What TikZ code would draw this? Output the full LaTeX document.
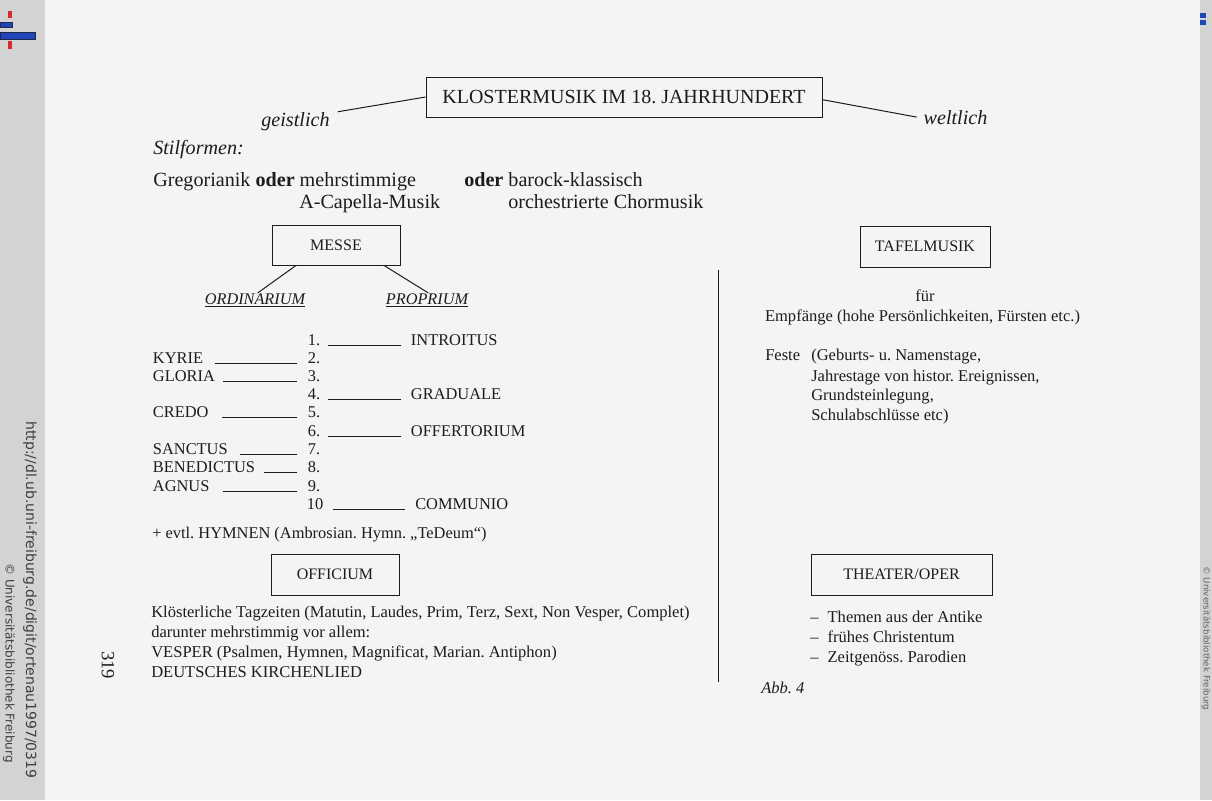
\documentclass[tikz,border=0pt]{standalone}
\usepackage{fontspec}
\setmainfont{Liberation Serif}
\newfontfamily\urlfont{DejaVu Sans}
\definecolor{ink}{HTML}{1C1C1C}
\definecolor{pagebg}{HTML}{F4F4F4}
\definecolor{stripbg}{HTML}{D3D3D3}
\definecolor{logoblue}{HTML}{1F45B8}
\definecolor{logored}{HTML}{D42A2A}
\begin{document}
\frenchspacing
\begin{tikzpicture}[x=0.75pt,y=-0.75pt,
  every node/.style={text=ink},
  framebox/.style={draw=ink, line width=0.7pt, inner sep=0pt, font=\fontsize{12}{14}\selectfont},
  lbl/.style={anchor=base west, inner sep=0pt, font=\fontsize{12.3}{14}\selectfont},
  big/.style={anchor=base west, inner sep=0pt, font=\fontsize{15.1}{17}\selectfont},
  bigit/.style={big, font=\fontsize{15.1}{17}\selectfont\itshape},
  body/.style={anchor=base west, inner sep=0pt, font=\fontsize{12.4}{15}\selectfont},
  sidetext/.style={rotate=-90, anchor=west, inner sep=0pt, text=ink!85, font=\urlfont\fontsize{10.5}{12}\selectfont},
  conn/.style={draw=ink, line width=0.75pt},
  uline/.style={draw=ink, line width=0.7pt}]
\useasboundingbox (0,0) rectangle (1212,800);
\fill[pagebg] (0,0) rectangle (1212,800);
\fill[stripbg] (0,0) rectangle (45,800);
\fill[stripbg] (1200,0) rectangle (1212,800);
% logo top left
\fill[logored] (8,11) rectangle (12,18);
\filldraw[fill=logoblue, draw=ink!70!logoblue, line width=0.4pt] (0,22) rectangle (12,27);
\filldraw[fill=logoblue, draw=ink!70!logoblue, line width=0.4pt] (0,32) rectangle (35,39);
\fill[logored] (8,41) rectangle (12,49);
% right top marks
\fill[logoblue] (1200,13) rectangle (1206,18);
\fill[logoblue] (1200,20) rectangle (1206,25);
% side texts
\node[sidetext] (url) at (30,421) {http://dl.ub.uni-freiburg.de/digit/ortenau1997/0319};
\node[sidetext, font=\urlfont\fontsize{9}{11}\selectfont] (copy) at (9,563) {© Universitätsbibliothek Freiburg};
\node[sidetext, font=\urlfont\fontsize{6.5}{8}\selectfont, text=ink!70] (copyr) at (1206,566) {© Universitätsbibliothek Freiburg};
\node[rotate=-90, inner sep=0pt, font=\fontsize{14}{16}\selectfont] (pg) at (108,665) {319};

% title
\node[framebox, minimum width=297pt, minimum height=30pt, font=\fontsize{15}{17}\selectfont] (title) at (624,97) {KLOSTERMUSIK IM 18. JAHRHUNDERT};
\node[bigit, anchor=base] (geist) at (295.5,126) {geistlich};
\node[bigit, anchor=base] (welt) at (955.5,124) {weltlich};
\draw[conn] (title.west) -- ([xshift=6pt]geist.north east);
\draw[conn] ([yshift=-2pt]title.east) -- ([xshift=-5pt]welt.west);

\node[bigit] (stil) at (153,154) {Stilformen:};
\node[big] (greg) at (153,186) {Gregorianik \textbf{oder} mehrstimmige};
\node[big] (acap) at (299,208) {A-Capella-Musik};
\node[big] (barock) at (464,186) {\textbf{oder} barock-klassisch};
\node[big] (orch) at (508,208) {orchestrierte Chormusik};

% MESSE
\node[framebox, minimum width=96pt, minimum height=30pt] (messe) at (336,245) {MESSE};
\node[lbl, anchor=base, font=\fontsize{12.2}{14}\selectfont\itshape] (ord) at (255,304) {\underline{ORDINARIUM}};
\node[lbl, anchor=base, font=\fontsize{12.2}{14}\selectfont\itshape] (prop) at (427,304) {\underline{PROPRIUM}};
\draw[conn] ([xshift=-30pt]messe.south) -- ([xshift=2pt]ord.north);
\draw[conn] ([xshift=36pt]messe.south) -- ([xshift=1pt]prop.north);

% list
\node[lbl] (n1) at (307.7,345) {1.};
\node[lbl] (n2) at (307.7,363) {2.};
\node[lbl] (n3) at (307.7,381.4) {3.};
\node[lbl] (n4) at (307.7,399.6) {4.};
\node[lbl] (n5) at (307.7,417.9) {5.};
\node[lbl] (n6) at (307.7,436.1) {6.};
\node[lbl] (n7) at (307.7,454.4) {7.};
\node[lbl] (n8) at (307.7,472.7) {8.};
\node[lbl] (n9) at (307.7,491) {9.};
\node[lbl] (n10) at (306.7,509.3) {10};

\node[lbl] (kyrie) at (152.7,363) {KYRIE};
\node[lbl] (gloria) at (152.7,381.4) {GLORIA};
\node[lbl] (credo) at (152.7,417.9) {CREDO};
\node[lbl] (sanctus) at (152.7,454.4) {SANCTUS};
\node[lbl] (bened) at (152.7,472.7) {BENEDICTUS};
\node[lbl] (agnus) at (152.7,491) {AGNUS};

\node[lbl] (intro) at (410.7,345) {INTROITUS};
\node[lbl] (grad) at (410.7,399.6) {GRADUALE};
\node[lbl] (offert) at (410.7,436.1) {OFFERTORIUM};
\node[lbl] (comm) at (415,509.3) {COMMUNIO};

\draw[uline] ([xshift=8.6pt]kyrie.base east) -- ([xshift=-8.25pt]n2.base west);
\draw[uline] ([xshift=5.9pt]gloria.base east) -- ([xshift=-8.25pt]n3.base west);
\draw[uline] ([xshift=10.2pt]credo.base east) -- ([xshift=-8.25pt]n5.base west);
\draw[uline] ([xshift=8.7pt]sanctus.base east) -- ([xshift=-8.25pt]n7.base west);
\draw[uline] ([xshift=6.9pt]bened.base east) -- ([xshift=-8.25pt]n8.base west);
\draw[uline] ([xshift=9.6pt]agnus.base east) -- ([xshift=-8.25pt]n9.base west);
\draw[uline] ([xshift=5.8pt]n1.base east) -- ([xshift=-7.3pt]intro.base west);
\draw[uline] ([xshift=5.8pt]n4.base east) -- ([xshift=-7.3pt]grad.base west);
\draw[uline] ([xshift=5.8pt]n6.base east) -- ([xshift=-7.3pt]offert.base west);
\draw[uline] ([xshift=7pt]n10.base east) -- ([xshift=-7.5pt]comm.base west);

\node[lbl] (hymn) at (152,538) {+ evtl. HYMNEN (Ambrosian. Hymn. „TeDeum“)};

% OFFICIUM
\node[framebox, minimum width=96pt, minimum height=30.75pt] (offic) at (335,574.5) {OFFICIUM};
\node[body] (of1) at (151,617) {Klösterliche Tagzeiten (Matutin, Laudes, Prim, Terz, Sext, Non Vesper, Complet)};
\node[body] (of2) at (151,637) {darunter mehrstimmig vor allem:};
\node[body] (of3) at (151,657) {VESPER (Psalmen, Hymnen, Magnificat, Marian. Antiphon)};
\node[body] (of4) at (151,677) {DEUTSCHES KIRCHENLIED};

% separator
\coordinate (septop) at (718,270);
\coordinate (sepbot) at (718,682);
\draw[conn] (septop) -- (sepbot);

% TAFELMUSIK
\node[framebox, minimum width=97.5pt, minimum height=30.75pt] (tafel) at (925,246.5) {TAFELMUSIK};
\node[body, anchor=base] (fuer) at (925,301) {für};
\node[body, anchor=base] (empf) at (922.5,321) {Empfänge (hohe Persönlichkeiten, Fürsten etc.)};
\node[body] (feste) at (765,360) {Feste};
\node[body] (f1) at (811,360) {(Geburts- u. Namenstage,};
\node[body] (f2) at (811,381) {Jahrestage von histor. Ereignissen,};
\node[body] (f3) at (811,400.5) {Grundsteinlegung,};
\node[body] (f4) at (811,420) {Schulabschlüsse etc)};

% THEATER/OPER
\node[framebox, minimum width=135.75pt, minimum height=30.75pt] (theater) at (901.5,574.5) {THEATER/OPER};
\node[body] (t1) at (810,622) {–\hspace{0.55em}Themen aus der Antike};
\node[body] (t2) at (810,642) {–\hspace{0.55em}frühes Christentum};
\node[body] (t3) at (810,662) {–\hspace{0.55em}Zeitgenöss. Parodien};

\node[body, font=\fontsize{12.4}{15}\selectfont\itshape] (abb) at (761,693) {Abb. 4};
\end{tikzpicture}
\end{document}
